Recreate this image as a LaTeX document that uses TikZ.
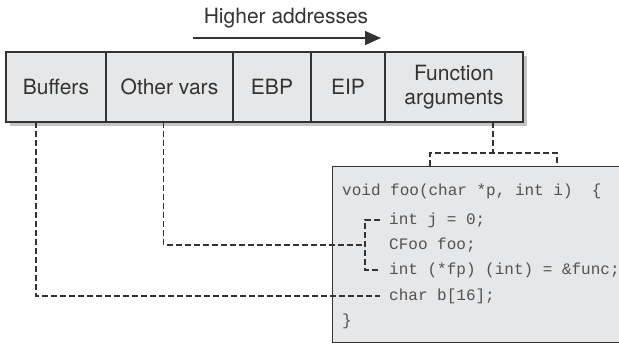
\documentclass[tikz,border=0pt]{standalone}
\usepackage{fontspec}
\setmainfont{TeX Gyre Heros}
\setmonofont{Liberation Mono}
\usetikzlibrary{positioning,arrows.meta}
\definecolor{cellgray}{HTML}{E6E7E8}
\definecolor{shadegray}{HTML}{C4C4C4}
\definecolor{inkgray}{HTML}{333333}

\begin{document}
\begin{tikzpicture}[
  x=1pt, y=-1pt,
  every node/.style={font=\fontsize{21}{24}\selectfont, text=inkgray},
  cell/.style={draw=inkgray, line width=1.4pt, fill=cellgray, minimum height=70pt,
    inner sep=0pt, outer sep=0pt, align=center},
  codeline/.style={anchor=west, inner sep=0pt, text=inkgray!85,
    font=\ttfamily\fontsize{16}{18}\selectfont},
  link/.style={draw=inkgray, line width=1.2pt, dash pattern=on 6pt off 3pt},
]
\useasboundingbox (0,0) rectangle (619,343);

% stack frame
\fill[shadegray] (10,56) rectangle (527,126);
\node[cell, minimum width=100pt, anchor=north west] (buf) at (6,52) {Buffers};
\node[cell, minimum width=127pt, right=0pt of buf] (vars) {Other vars};
\node[cell, minimum width=78pt, right=0pt of vars] (ebp) {EBP};
\node[cell, minimum width=74pt, right=0pt of ebp] (eip) {EIP};
\node[cell, minimum width=138pt, right=0pt of eip] (args) {Function\\arguments};

\node (dir) at (286,18) {Higher addresses};
\coordinate (hstart) at (193,38);
\coordinate (hend) at (381,38);
\draw[-{Triangle[length=16pt,width=14pt]}, line width=1.4pt, inkgray] (hstart) -- (hend);

% source code
\node[draw=inkgray, line width=1.2pt, fill=cellgray, minimum width=320pt,
  minimum height=176pt, anchor=north west, inner sep=0pt] (code) at (332,166) {};
\node[codeline] (sig) at (342,191) {void foo(char *p, int i)~~\{};
\node[codeline] (lj) at (389,220) {int j = 0;};
\node[codeline] (lfoo) at (389,245) {CFoo foo;};
\node[codeline] (lfp) at (389,270) {int (*fp) (int) = \&func;};
\node[codeline] (lbuf) at (389,296) {char b[16];};
\node[codeline] (close) at (342,321) {\}};

% links
\coordinate (argdrop) at (493,153);
\coordinate (pleft) at (430,153);
\coordinate (pright) at (557,153);
\draw[link] (args.south -| argdrop) -- (argdrop);
\draw[link] (pleft |- code.north) -- (pleft) -- (pright) -- (pright |- code.north);

\draw[link] ([xshift=-9pt]lj.west) -- ([xshift=-24pt]lj.west)
  -- ([xshift=-24pt]lfp.west) -- ([xshift=-9pt]lfp.west);
\draw[link] ([xshift=-6pt]vars.south) -- ([xshift=-6pt]vars.south |- lfoo.west)
  -- ([xshift=-24pt]lfoo.west);
\draw[link] ([xshift=-20pt]buf.south) -- ([xshift=-20pt]buf.south |- lbuf.west)
  -- ([xshift=-9pt]lbuf.west);
\end{tikzpicture}
\end{document}
